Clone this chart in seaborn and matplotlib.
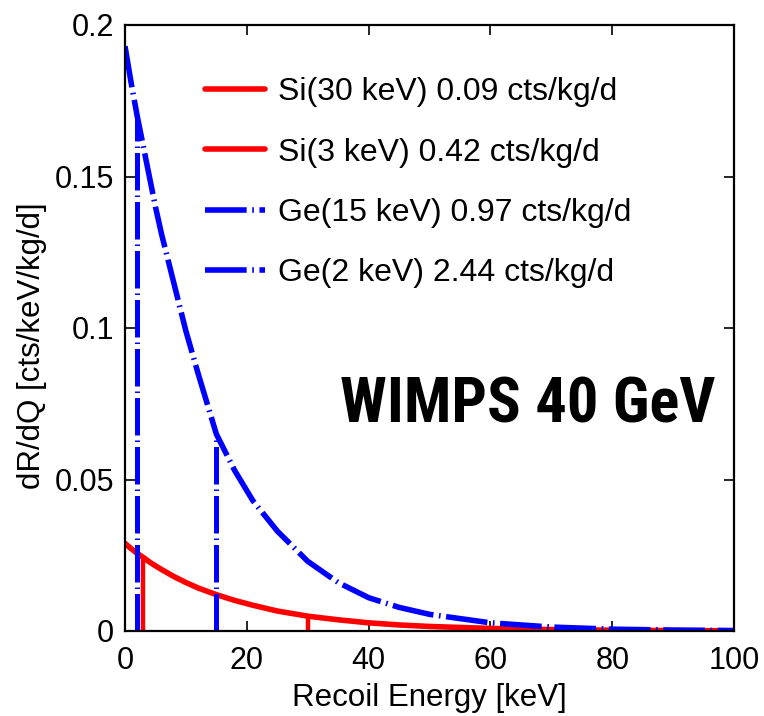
import numpy as np
import pandas as pd
import matplotlib
matplotlib.use("Agg")
import matplotlib.pyplot as plt
from matplotlib.lines import Line2D
from matplotlib import font_manager
import seaborn as sns

# ---- data ----
energy = [0, 1, 2, 3, 4, 5, 6, 8, 10, 12, 15, 18, 21, 25, 30, 35, 40, 45, 50, 60, 70, 80, 90, 100]
si_rate = [0.0289, 0.0272, 0.0256, 0.0243, 0.0228, 0.0215, 0.0203, 0.0180, 0.0160, 0.0142,
           0.0120, 0.0101, 0.0085, 0.0066, 0.0049, 0.0037, 0.0027, 0.0020, 0.0015, 0.00085,
           0.00047, 0.00026, 0.00015, 0.00008]
ge_rate = [0.193, 0.181, 0.170, 0.160, 0.150, 0.140, 0.131, 0.115, 0.099, 0.085,
           0.065, 0.053, 0.043, 0.033, 0.023, 0.016, 0.011, 0.0078, 0.0055, 0.0027,
           0.0013, 0.0006, 0.0003, 0.00015]
si_thresholds = [30, 3]
ge_thresholds = [15, 2]
legend_labels = ["Si(30 keV) 0.09 cts/kg/d", "Si(3 keV) 0.42 cts/kg/d",
                 "Ge(15 keV) 0.97 cts/kg/d", "Ge(2 keV) 2.44 cts/kg/d"]
x_ticks = [0, 20, 40, 60, 80, 100]
y_ticks = [0, 0.05, 0.1, 0.15, 0.2]
y_ticklabels = ["0", "0.05", "0.1", "0.15", "0.2"]
annotation = "WIMPS 40 GeV"

sns.set_theme(style="ticks")
plt.rcParams["font.family"] = ["Liberation Sans", "DejaVu Sans"]
plt.rcParams["text.color"] = "black"

names = {f.name for f in font_manager.fontManager.ttflist}
narrow = "Liberation Sans Narrow" if "Liberation Sans Narrow" in names else "Roboto Condensed"
if narrow not in names:
    narrow = "Liberation Sans"

df = pd.DataFrame({"energy": energy, "si": si_rate, "ge": ge_rate})

fig = plt.figure(figsize=(7.64, 7.16), dpi=100)
ax = fig.add_axes([125 / 764, 1 - 631 / 716, (734 - 125) / 764, (631 - 25) / 716])

lw = 4.0
dashdot = (0, (7.5, 1.0, 0.3, 1.0))

sns.lineplot(data=df, x="energy", y="si", color="#ff0000", lw=lw, ax=ax,
             estimator=None, sort=False)
ax.vlines(si_thresholds, 0, np.interp(si_thresholds, energy, si_rate),
          colors="#ff0000", linewidth=lw * 0.8)
sns.lineplot(data=df, x="energy", y="ge", color="#0000ff", lw=lw, ax=ax,
             estimator=None, sort=False, linestyle=dashdot)
ax.vlines(ge_thresholds, 0, np.interp(ge_thresholds, energy, ge_rate),
          colors="#0000ff", linewidth=lw * 0.9, linestyles=[dashdot])

ax.set_xlim(0, 100)
ax.set_ylim(0, 0.2)
ax.set_xticks(x_ticks)
ax.set_xticklabels([str(t) for t in x_ticks])
ax.set_yticks(y_ticks)
ax.set_yticklabels(y_ticklabels)
ax.tick_params(direction="in", length=7, width=1.2, top=True, right=True,
               labelsize=22, colors="black")
ax.tick_params(axis="x", pad=11)
ax.tick_params(axis="y", pad=8)
for s in ax.spines.values():
    s.set_visible(True)
    s.set_linewidth(1.6)
    s.set_color("black")

ax.set_xlabel("Recoil Energy [keV]", fontsize=22.5, color="black")
ax.set_ylabel("dR/dQ [cts/keV/kg/d]", fontsize=22.5, color="black")
ax.xaxis.set_label_coords(0.5, -0.085)
ax.yaxis.set_label_coords(-0.128, 0.47)

handles = [Line2D([], [], color="#ff0000", lw=lw),
           Line2D([], [], color="#ff0000", lw=lw),
           Line2D([], [], color="#0000ff", lw=lw, linestyle=dashdot),
           Line2D([], [], color="#0000ff", lw=lw, linestyle=dashdot)]
leg = ax.legend(handles, legend_labels, loc="upper left", bbox_to_anchor=(0.11, 0.935),
                frameon=False, fontsize=23, handlelength=1.9, handletextpad=0.4,
                labelspacing=0.95, borderaxespad=0)
for t in leg.get_texts():
    t.set_color("black")

ax.text(97, 0.0745, annotation, ha="right", va="center", fontsize=45, fontweight="bold",
        family=[narrow, "DejaVu Sans"], color="black")

fig.savefig("out.png", dpi=100)
